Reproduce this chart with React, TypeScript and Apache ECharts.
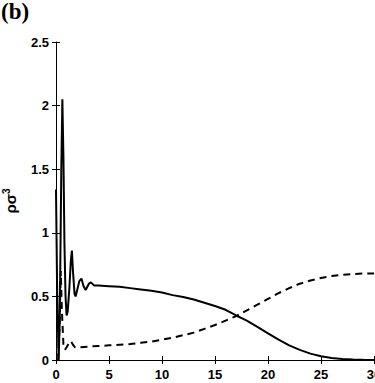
import React, { useEffect, useRef } from "react";
import * as echarts from "echarts";

const xTicks = [0, 5, 10, 15, 20, 25, 30];
const yTicks = [0, 0.5, 1, 1.5, 2, 2.5];

const solidZ = [0, 0.1, 0.25, 0.35, 0.5, 0.6, 0.7, 0.8, 0.9, 1.0, 1.1, 1.25, 1.4, 1.5, 1.6, 1.75, 1.85, 2.0, 2.2, 2.4, 2.6, 2.8, 3.1, 3.3, 3.6, 4, 5, 6, 7, 8, 9, 10, 11, 12, 13, 14, 15, 16, 17, 18, 19, 20, 21, 22, 23, 24, 25, 26, 27, 28, 29, 30];
const solidRho = [1.34, 0.6, 0, 0.3, 1.5, 2.05, 1.6, 0.9, 0.5, 0.35, 0.38, 0.55, 0.78, 0.86, 0.7, 0.52, 0.5, 0.55, 0.62, 0.64, 0.58, 0.55, 0.6, 0.61, 0.585, 0.585, 0.58, 0.575, 0.565, 0.555, 0.545, 0.53, 0.51, 0.495, 0.475, 0.45, 0.425, 0.395, 0.35, 0.31, 0.26, 0.21, 0.16, 0.115, 0.08, 0.05, 0.03, 0.015, 0.007, 0.003, 0.001, 0];

const dashZ = [0.2, 0.35, 0.45, 0.55, 0.7, 0.85, 1.0, 1.2, 1.4, 1.6, 1.8, 2.2, 3, 4, 5, 6, 7, 8, 9, 10, 11, 12, 13, 14, 15, 16, 17, 18, 19, 20, 21, 22, 23, 24, 25, 26, 27, 28, 29, 30];
const dashRho = [0, 0.3, 0.7, 0.4, 0.12, 0.08, 0.1, 0.13, 0.15, 0.12, 0.1, 0.1, 0.105, 0.11, 0.115, 0.12, 0.125, 0.135, 0.145, 0.16, 0.175, 0.195, 0.215, 0.245, 0.275, 0.31, 0.345, 0.39, 0.435, 0.48, 0.525, 0.565, 0.6, 0.625, 0.645, 0.66, 0.67, 0.675, 0.68, 0.68];

const labelFont = { fontFamily: "Liberation Sans", fontWeight: "bold" as const, fontSize: 13, color: "#000" };

export default function App() {
  const ref = useRef<HTMLDivElement>(null);
  useEffect(() => {
    if (!ref.current) return;
    const chart = echarts.init(ref.current, null, { renderer: "svg" });
    const solid = solidZ.map((z, i) => [z, solidRho[i]]);
    const dashed = dashZ.map((z, i) => [z, dashRho[i]]);
    const axisLine = { show: true, lineStyle: { color: "#000", width: 1 } };
    const tick = { show: true, inside: true, length: 4, lineStyle: { color: "#000" } };
    chart.setOption({
      animation: false,
      backgroundColor: "#fff",
      grid: { left: 56, right: 1, top: 42, bottom: 23, containLabel: false, outerBoundsMode: "none" },
      graphic: [
        { type: "text", left: 1, top: 0, style: { text: "(b)", font: "bold 23px 'Liberation Serif'", fill: "#000" } },
      ],
      xAxis: [
        {
          type: "value", min: xTicks[0], max: xTicks[xTicks.length - 1], interval: 5,
          axisLine, axisTick: tick, splitLine: { show: false },
          axisLabel: { ...labelFont, margin: 8, showMaxLabel: true, hideOverlap: false },
        },
        {
          type: "value", position: "top", min: 0, max: 30, interval: 5,
          axisLine, axisTick: tick, splitLine: { show: false }, axisLabel: { show: false },
        },
      ],
      yAxis: [
        {
          type: "value", min: yTicks[0], max: yTicks[yTicks.length - 1], interval: 0.5,
          axisLine, axisTick: tick, splitLine: { show: false },
          axisLabel: { ...labelFont, margin: 7 },
          name: "{a|ρσ}{s|3}", nameLocation: "middle", nameGap: 36, nameRotate: 90,
          nameTextStyle: {
            rich: {
              a: { fontFamily: "Liberation Sans", fontWeight: "bold", fontSize: 15, color: "#000" },
              s: { fontFamily: "Liberation Sans", fontWeight: "bold", fontSize: 10, color: "#000", padding: [0, 0, 9, 0] },
            },
          },
        },
        {
          type: "value", position: "right", min: 0, max: 2.5, interval: 0.5,
          axisLine: { show: true, lineStyle: { color: "#000", width: 1, type: [3, 3] } },
          axisTick: tick, splitLine: { show: false }, axisLabel: { show: false },
        },
      ],
      series: [
        {
          type: "line", data: solid, showSymbol: false, xAxisIndex: 0, yAxisIndex: 0,
          lineStyle: { color: "#000", width: 2 },
        },
        {
          type: "line", data: dashed, showSymbol: false, xAxisIndex: 0, yAxisIndex: 0,
          lineStyle: { color: "#000", width: 2, type: [7, 5] },
        },
      ],
    });
    return () => chart.dispose();
  }, []);
  return <div ref={ref} style={{ position: "fixed", left: 0, top: 0, width: 375, height: 383 }} />;
}
